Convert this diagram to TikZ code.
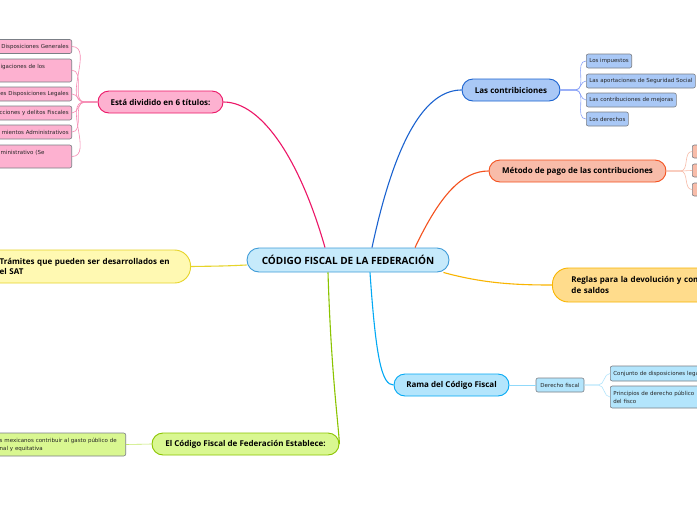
\documentclass[tikz,border=0pt]{standalone}
\usepackage{fontspec}
\setmainfont{Open Sans}
\newfontfamily\smallfont{DejaVu Sans}
\usepackage{tikz}
\usetikzlibrary{calc}

\definecolor{centralfill}{HTML}{C6EAFB}
\definecolor{centralline}{HTML}{3F9CD8}
\definecolor{contfill}{HTML}{A9C8F6}
\definecolor{contline}{HTML}{1B63D0}
\definecolor{metfill}{HTML}{F8BCA9}
\definecolor{metline}{HTML}{F4511E}
\definecolor{regfill}{HTML}{FFDC8C}
\definecolor{regline}{HTML}{F9B500}
\definecolor{ramafill}{HTML}{B3E5FC}
\definecolor{ramaline}{HTML}{03A9F4}
\definecolor{estfill}{HTML}{D9F791}
\definecolor{estline}{HTML}{8BC400}
\definecolor{tramfill}{HTML}{FFF9B2}
\definecolor{tramline}{HTML}{E6D42A}
\definecolor{titfill}{HTML}{FDB1D0}
\definecolor{titline}{HTML}{EC1667}
\definecolor{subline}{HTML}{7B7F86}

\begin{document}
\begin{tikzpicture}[
    x=1pt, y=-1pt,
    topic/.style={rectangle, draw, line width=0.9pt, rounded corners=11pt,
                  minimum height=22pt, inner xsep=0pt, inner ysep=0pt, align=center,
                  font=\fontsize{8}{10.4}\selectfont\bfseries},
    sub/.style={rectangle, draw=subline, line width=0.6pt, rounded corners=2pt,
                minimum height=14pt, inner xsep=3pt, inner ysep=0pt, align=left,
                font=\smallfont\fontsize{5.5}{8}\selectfont, text=black!85},
    titcut/.style={sub, fill=titfill, anchor=east, text width=80pt, align=right},
    link/.style={line width=1.1pt},
    twig/.style={line width=0.6pt},
]
\fill[white] (0,0) rectangle (697,520);
\useasboundingbox (0,0) rectangle (697,520);
\clip (0,0) rectangle (697,520);

% tema central
\node[topic, fill=centralfill, draw=centralline, minimum width=202pt, minimum height=24pt,
      rounded corners=12pt, font=\fontsize{10}{12}\selectfont\bfseries]
      (codigo) at (348,260) {CÓDIGO FISCAL DE LA FEDERACIÓN};

% ramas principales
\node[topic, fill=contfill, draw=contline, minimum width=98pt] (contrib) at (511,90) {Las contribiciones};
\node[topic, fill=metfill, draw=metline, minimum width=177pt] (metodo) at (577.5,171) {Método de pago de las contribuciones};
\node[topic, fill=regfill, draw=regline, anchor=west, minimum height=34pt, rounded corners=16pt,
      inner xsep=19pt, text width=150pt, align=left] (reglas) at (552,285)
      {Reglas para la devolución y com\\de saldos};
\node[topic, fill=ramafill, draw=ramaline, minimum width=115pt] (rama) at (451.5,385) {Rama del Código Fiscal};
\node[topic, fill=estfill, draw=estline, minimum width=187pt] (establece) at (245.5,444) {El Código Fiscal de Federación Establece:};
\node[topic, fill=tramfill, draw=tramline, anchor=east, minimum height=33pt, rounded corners=16pt,
      inner xsep=16pt, text width=175pt, align=left] (tramites) at (191,266.5)
      {Trámites que pueden ser desarrollados en\\el SAT};
\node[topic, fill=titfill, draw=titline, minimum width=125pt] (titulos) at (160.5,102) {Está dividido en 6 títulos:};

% subtemas
\node[sub, fill=contfill, anchor=west] (impuestos) at (586,61) {Los impuestos};
\node[sub, fill=contfill, anchor=west] (aportaciones) at (586,81) {Las aportaciones de Seguridad Social};
\node[sub, fill=contfill, anchor=west] (mejoras) at (586,100) {Las contribuciones de mejoras};
\node[sub, fill=contfill, anchor=west] (derechos) at (586,119) {Los derechos};

\node[sub, fill=metfill, anchor=west, minimum width=20pt, minimum height=13pt] (pagoa) at (692,151.5) {};
\node[sub, fill=metfill, anchor=west, minimum width=20pt, minimum height=13pt] (pagob) at (692,170.5) {};
\node[sub, fill=metfill, anchor=west, minimum width=20pt, minimum height=13pt] (pagoc) at (692,189.5) {};

\node[sub, fill=ramafill, minimum width=48pt, align=center] (derecho) at (560,385) {Derecho fiscal};
\node[sub, fill=ramafill, anchor=west, text width=110pt, minimum height=15pt] (conjunto) at (610,373.5) {Conjunto de disposiciones legales};
\node[sub, fill=ramafill, anchor=west, text width=110pt, minimum height=22pt] (principios) at (610,397)
      {Principios de derecho público\\del fisco};

\node[sub, fill=estfill, anchor=east, text width=123pt, minimum height=23pt] (contribuir) at (126,444.5)
      {s mexicanos contribuir al gasto público de\\nal y equitativa};

\node[titcut] (tita) at (72,46.5) {Disposiciones Generales};
\node[sub, fill=titfill, anchor=east, text width=68pt, minimum height=23pt] (titb) at (72,70.5) {igaciones de los\\~};
\node[titcut] (titc) at (72,94) {es Disposiciones Legales};
\node[titcut] (titd) at (72,113) {cciones y delitos Fiscales};
\node[titcut] (tite) at (72,132) {mientos Administrativos};
\node[sub, fill=titfill, anchor=east, text width=68pt, minimum height=23pt] (titf) at (72,156.5) {ministrativo (Se\\~};

% conexiones principales
\draw[link, titline] ($(codigo.north)+(-23,0)$) .. controls (300,160) and (262,102) .. (titulos.east);
\draw[link, contline] ($(codigo.north)+(24,0)$) .. controls (395,140) and (425,90) .. (contrib.west);
\draw[link, metline] ($(codigo.north)+(67,0)$) .. controls (440,195) and (462,171) .. (metodo.west);
\draw[link, regline] ($(codigo.south east)+(-6,0)$) .. controls (485,284) and (520,285) .. (reglas.west);
\draw[link, ramaline] ($(codigo.south)+(22,0)$) .. controls (376,360) and (382,385) .. (rama.west);
\draw[link, estline] ($(codigo.south)+(-20,0)$) .. controls (331,370) and (338,420) .. (establece.east);
\draw[link, tramline] ($(codigo.west)+(0,5)$) .. controls (225,266) .. (tramites.east);

% conexiones de subtemas
\foreach \c in {impuestos,aportaciones,mejoras,derechos}
  \draw[twig, contfill!80!blue] (contrib.east) -- ++(15,0) to[out=0,in=180] (\c.west);
\foreach \c in {pagoa,pagob,pagoc}
  \draw[twig, metfill] (metodo.east) -- ++(14,0) to[out=0,in=180] (\c.west);
\foreach \c in {conjunto,principios}
  \draw[twig, ramafill] (derecho.east) -- ++(14,0) to[out=0,in=180] (\c.west);
\foreach \c in {tita,titb,titc,titd,tite,titf}
  \draw[twig, titline!50] (titulos.west) -- ++(-13,0) to[out=180,in=0] (\c.east);
\draw[twig, ramafill!80!ramaline, line width=0.9pt] (rama.east) -- (derecho.west);
\draw[twig, estfill!70!estline] (establece.west) -- (contribuir.east);
\end{tikzpicture}
\end{document}
